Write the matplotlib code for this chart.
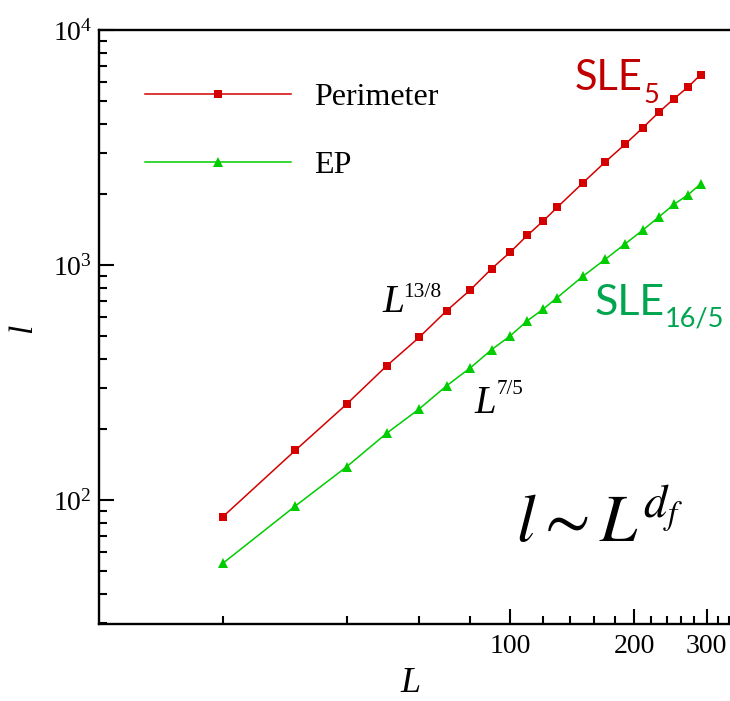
import matplotlib
matplotlib.use("Agg")
import matplotlib.pyplot as plt
from matplotlib.ticker import FixedLocator, NullFormatter, LogLocator

plt.rcParams['font.family'] = ['Liberation Serif', 'DejaVu Serif']
plt.rcParams['mathtext.fontset'] = 'stix'

# ---- data ----
L_vals = [20, 30, 40, 50, 60, 70, 80, 90, 100, 110, 120, 130, 150, 170, 190, 210, 230, 250, 270, 290]
perimeter = [84.9, 162.7, 256, 372, 492, 639, 785, 964, 1136, 1338, 1535, 1760, 2234, 2743, 3263,
             3840, 4478, 5102, 5704, 6452]
ep = [53.8, 94.3, 138.6, 192.2, 243.9, 306.4, 365.6, 436.1, 500.2, 579.4, 647.9, 727, 895, 1057,
      1229, 1409, 1605, 1813, 1986, 2212]
series_labels = ['Perimeter', 'EP']
x_major = [100, 200, 300]
x_major_labels = ['100', '200', '300']
x_minor = [20, 40, 60, 80, 120, 140, 160, 180, 220, 240, 260, 280, 320, 340]

red = '#D40000'
green = '#00CC00'

fig = plt.figure(figsize=(7.30, 7.01), dpi=100)
ax = fig.add_axes([99/730, 1-624/701, (730-99)/730, (624-30)/701])

ax.plot(L_vals, perimeter, color=red, lw=1.1, marker='s', ms=5.5, mew=0, label=series_labels[0])
ax.plot(L_vals, ep, color=green, lw=1.1, marker='^', ms=7, mew=0, label=series_labels[1])

ax.set_xscale('log')
ax.set_yscale('log')
ax.set_xlim(10, 342)
ax.set_ylim(29.7, 1e4)

ax.xaxis.set_major_locator(FixedLocator(x_major))
ax.set_xticklabels(x_major_labels)
ax.xaxis.set_minor_locator(FixedLocator(x_minor))
ax.xaxis.set_minor_formatter(NullFormatter())
ax.yaxis.set_major_locator(LogLocator(base=10, numticks=10))
ax.yaxis.set_minor_locator(LogLocator(base=10, subs=range(2, 10), numticks=20))
ax.yaxis.set_minor_formatter(NullFormatter())

ax.spines['right'].set_visible(False)
for s in ['left', 'bottom', 'top']:
    ax.spines[s].set_linewidth(1.7)
ax.tick_params(which='both', direction='in', top=False, right=False, width=1.5)
ax.tick_params(which='major', length=10.8, labelsize=20)
ax.tick_params(which='minor', length=5.8)
ax.tick_params(axis='y', which='major', pad=5)
ax.tick_params(axis='x', which='major', pad=7)

leg = ax.legend(loc='upper left', bbox_to_anchor=((145-99)/631, (624-83)/594), frameon=False,
                fontsize=23, handlelength=4.58, handletextpad=0.72, labelspacing=1.2,
                borderpad=0, borderaxespad=0, numpoints=1)

fx = lambda px: (px - 99) / 631
fy = lambda py: (624 - py) / 594

ax.text(fx(382), fy(312), 'L', style='italic', fontsize=28.5, transform=ax.transAxes, va='baseline')
ax.text(fx(403), fy(297), '13/8', fontsize=15.5, transform=ax.transAxes, va='baseline')
ax.text(fx(474), fy(413), 'L', style='italic', fontsize=28, transform=ax.transAxes, va='baseline')
ax.text(fx(497), fy(394), '7/5', fontsize=15, transform=ax.transAxes, va='baseline')

ax.text(fx(575), fy(90), 'SLE', family='Lato', fontsize=30, color='#C00000', transform=ax.transAxes, va='baseline')
ax.text(fx(643), fy(103), '5', family='Lato', fontsize=19.5, color='#C00000', transform=ax.transAxes, va='baseline')
ax.text(fx(595), fy(315), 'SLE', family='Lato', fontsize=31, color='#00A550', transform=ax.transAxes, va='baseline')
ax.text(fx(665), fy(326), '16/5', family='Lato', fontsize=19.5, color='#00A550', transform=ax.transAxes, va='baseline')

ax.text(fx(516), fy(542), r'$l\sim L^{d_f}$', fontsize=48, transform=ax.transAxes, va='baseline')

fig.text(410/730, 1-683/701, 'L', style='italic', fontsize=26, ha='center', va='center')
fig.text(23/730, 1-328/701, 'l', style='italic', fontsize=24, rotation=90, ha='center', va='center')

fig.savefig('out.png', dpi=100)
